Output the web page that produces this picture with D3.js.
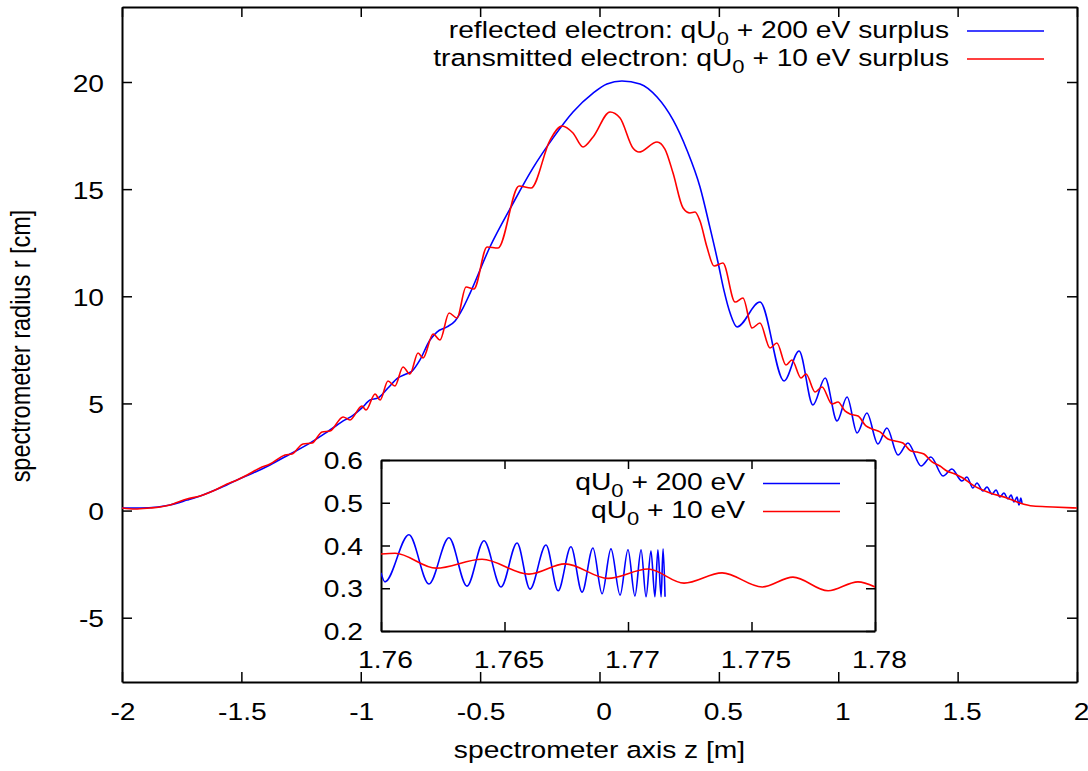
<!DOCTYPE html>
<html><head><meta charset="utf-8">
<script src="https://cdn.jsdelivr.net/npm/d3@7"></script>
<style>
body{margin:0;background:#fff}
svg{display:block;background:#fff}
text{font-family:"Liberation Sans",Arial,Helvetica,sans-serif;fill:#000;white-space:pre}
</style></head><body>
<svg id="c" width="1088" height="771"></svg>
<script>
// ---------------- data ----------------
const reflectedMain = [
[-2.000,0.12],[-1.925,0.12],[-1.849,0.17],[-1.799,0.26],[-1.728,0.49],[-1.661,0.73],[-1.590,1.05],
[-1.518,1.43],[-1.451,1.75],[-1.380,2.13],[-1.296,2.64],[-1.213,3.15],[-1.129,3.76],[-1.066,4.23],
[-1.037,4.41],[-0.995,4.79],[-0.961,5.16],[-0.928,5.25],[-0.886,5.72],[-0.844,6.19],[-0.810,6.37],
[-0.785,6.51],[-0.752,7.03],[-0.710,7.96],[-0.681,8.33],[-0.639,8.57],[-0.605,8.85],[-0.572,9.45],
[-0.542,10.15],[-0.459,12.30],[-0.366,14.26],[-0.279,15.98],[-0.195,17.38],[-0.111,18.60],
[-0.027,19.48],[0.031,19.91],[0.094,20.05],[0.170,19.91],[0.241,19.30],[0.308,18.23],[0.366,16.83],
[0.421,15.10],[0.463,13.19],[0.496,11.60],[0.521,10.29],[0.547,9.22],[0.576,8.57],
[0.672,9.73],[0.773,6.05],[0.836,7.45],[0.894,4.93],[0.945,6.19],[0.995,4.18],[1.037,5.30],
[1.079,3.62],[1.120,4.55],[1.166,3.11],[1.204,3.85],[1.250,2.59],[1.292,3.15],[1.347,2.08],
[1.388,2.50],[1.439,1.61],[1.476,1.94],[1.518,1.38],[1.539,1.57],[1.564,1.05],[1.581,1.29],
[1.606,0.91],[1.623,1.10],[1.644,0.77],[1.661,0.96],[1.677,0.63],[1.694,0.82],[1.711,0.54],
[1.724,0.73],[1.736,0.40],[1.749,0.63],[1.757,0.26],[1.765,0.59],[1.770,0.31]
];
const transmittedMain = [
[-2.000,0.12],[-1.946,0.07],[-1.883,0.12],[-1.841,0.17],[-1.799,0.26],[-1.728,0.54],[-1.673,0.68],
[-1.619,0.91],[-1.560,1.24],[-1.518,1.43],[-1.476,1.66],[-1.422,1.99],[-1.380,2.17],[-1.317,2.59],
[-1.288,2.64],[-1.242,3.11],[-1.204,3.15],[-1.162,3.67],[-1.129,3.71],[-1.074,4.37],[-1.045,4.23],
[-0.995,4.88],[-0.978,4.69],[-0.940,5.44],[-0.919,5.16],[-0.886,6.05],[-0.857,5.81],[-0.823,6.70],
[-0.794,6.37],[-0.760,7.35],[-0.739,7.12],[-0.697,8.24],[-0.668,7.96],[-0.630,9.22],[-0.597,8.99],
[-0.559,10.43],[-0.526,10.34],[-0.471,12.30],[-0.425,12.25],[-0.337,15.15],[-0.287,15.05],
[-0.207,17.29],[-0.157,17.95],[-0.111,17.62],[-0.069,16.97],[-0.027,17.43],[0.044,18.60],
[0.086,18.32],[0.140,16.92],[0.165,16.73],[0.241,17.20],[0.274,16.87],[0.308,15.75],[0.350,14.12],
[0.379,13.89],[0.400,13.93],[0.421,13.51],[0.450,12.30],[0.480,11.41],[0.517,11.55],[0.568,9.73],
[0.601,9.92],[0.639,8.52],[0.672,8.75],[0.714,7.59],[0.743,7.82],[0.781,6.79],[0.806,7.03],
[0.844,6.19],[0.865,6.37],[0.903,5.53],[0.932,5.77],[0.974,4.97],[0.999,5.07],[1.028,4.65],
[1.049,4.51],[1.083,4.41],[1.116,3.95],[1.141,3.81],[1.175,3.67],[1.208,3.34],[1.238,3.25],
[1.271,3.15],[1.305,2.78],[1.330,2.73],[1.359,2.64],[1.393,2.27],[1.426,2.08],[1.455,1.85],
[1.489,1.71],[1.522,1.52],[1.564,1.19],[1.636,0.82],[1.707,0.59],[1.761,0.35],[1.816,0.21],
[1.899,0.17],[2.000,0.12]
];
const reflectedInset = [
[1.76000,0.336],[1.76016,0.315],[1.76113,0.425],[1.76194,0.310],[1.76275,0.418],[1.76348,0.305],
[1.76417,0.411],[1.76486,0.303],[1.76551,0.406],[1.76603,0.298],[1.76668,0.401],[1.76717,0.294],
[1.76769,0.397],[1.76814,0.291],[1.76858,0.394],[1.76895,0.287],[1.76931,0.392],[1.76968,0.284],
[1.77000,0.390],[1.77028,0.282],[1.77053,0.390],[1.77073,0.280],[1.77093,0.387],[1.77109,0.280],
[1.77121,0.390],[1.77134,0.280],[1.77142,0.392],[1.77150,0.280]
];
const transmittedInset = [
[1.76000,0.380],[1.76057,0.382],[1.76223,0.347],[1.76409,0.368],[1.76599,0.333],[1.76745,0.357],
[1.76919,0.323],[1.77081,0.345],[1.77227,0.312],[1.77381,0.336],[1.77543,0.303],[1.77668,0.326],
[1.77810,0.294],[1.77931,0.315],[1.78000,0.303]
];
const mainXTicks = [-2,-1.5,-1,-0.5,0,0.5,1,1.5,2];
const mainYTicks = [-5,0,5,10,15,20];
const insetXTicks = [1.76,1.765,1.77,1.775,1.78];
const insetYTicks = [0.2,0.3,0.4,0.5,0.6];
const mainLegend = [["reflected electron: qU","0"," + 200 eV surplus"],["transmitted electron: qU","0"," + 10 eV surplus"]];
const insetLegend = [["qU","0"," + 200 eV"],["qU","0"," + 10 eV"]];
const colors = ["#0000ff","#ff0000"];
const xLabel = "spectrometer axis z [m]";
const yLabel = "spectrometer radius r [cm]";

// ---------------- layout ----------------
const FS = 23.5, SX = 1.2;
const svg = d3.select("#c");
const M = {l:122, r:1077, t:7, b:682};
const I = {l:381, r:875, t:460, b:631};

const x = d3.scaleLinear().domain([-2,2]).range([M.l,M.r]);
const y = d3.scaleLinear().domain([-8,23.5]).range([M.b,M.t]);
const xi = d3.scaleLinear().domain([1.76,1.78]).range([I.l,I.r]);
const yi = d3.scaleLinear().domain([0.2,0.6]).range([I.b,I.t]);

const defs = svg.append("defs");
defs.append("clipPath").attr("id","cm").append("rect").attr("x",M.l).attr("y",M.t).attr("width",M.r-M.l).attr("height",M.b-M.t);
defs.append("clipPath").attr("id","ci").append("rect").attr("x",I.l).attr("y",I.t).attr("width",I.r-I.l).attr("height",I.b-I.t);

function stext(g, tx, ty, str, anchor){
  return g.append("text").attr("transform",`translate(${tx},${ty}) scale(${SX},1)`)
    .attr("text-anchor",anchor||"middle").attr("font-size",FS).text(str);
}

function frame(xs, ys, B, tick, xt, yt, xLabY, yLabX, yLabDy){
  const gB = svg.append("g").attr("transform",`translate(0,${B.b})`)
    .call(d3.axisBottom(xs).tickValues(xt).tickSizeInner(-tick).tickSizeOuter(0).tickFormat(d=>String(d)));
  const gT = svg.append("g").attr("transform",`translate(0,${B.t})`)
    .call(d3.axisTop(xs).tickValues(xt).tickSizeInner(-tick).tickSizeOuter(0).tickFormat(()=>""));
  const gL = svg.append("g").attr("transform",`translate(${B.l},0)`)
    .call(d3.axisLeft(ys).tickValues(yt).tickSizeInner(-tick).tickSizeOuter(0).tickFormat(d=>String(d)));
  const gR = svg.append("g").attr("transform",`translate(${B.r},0)`)
    .call(d3.axisRight(ys).tickValues(yt).tickSizeInner(-tick).tickSizeOuter(0).tickFormat(()=>""));
  [gB,gT,gL,gR].forEach(g=>{
    g.attr("font-family",null).attr("font-size",null);
    g.select(".domain").attr("stroke","#000").attr("stroke-width",2);
    g.selectAll(".tick line").attr("stroke","#000").attr("stroke-width",1.5);
  });
  gB.selectAll(".tick text").attr("y",null).attr("dy",null).attr("x",null)
    .attr("font-size",FS).attr("fill","#000")
    .attr("transform",d=>`translate(${d<0?0.5:4},${xLabY}) scale(${SX},1)`);
  gL.selectAll(".tick text").attr("y",null).attr("dy",null).attr("x",null)
    .attr("font-size",FS).attr("fill","#000").attr("text-anchor","end")
    .attr("transform",`translate(${yLabX},${yLabDy}) scale(${SX},1)`);
}

// main axes
frame(x, y, M, 10, mainXTicks, mainYTicks, 38, 104-M.l, 9);

// main curves
const lineM = d3.line().x(d=>x(d[0])).y(d=>y(d[1])).curve(d3.curveMonotoneX);
const gm = svg.append("g").attr("clip-path","url(#cm)");
[reflectedMain, transmittedMain].forEach((s,i)=>{
  gm.append("path").datum(s).attr("d",lineM).attr("fill","none")
    .attr("stroke",colors[i]).attr("stroke-width",1.6).attr("stroke-linejoin","round");
});

// inset
frame(xi, yi, I, 9, insetXTicks, insetYTicks, 37, 363-I.l, 8.5);
const lineI = d3.line().x(d=>xi(d[0])).y(d=>yi(d[1])).curve(d3.curveMonotoneX);
const gi = svg.append("g").attr("clip-path","url(#ci)");
[reflectedInset, transmittedInset].forEach((s,i)=>{
  gi.append("path").datum(s).attr("d",lineI).attr("fill","none")
    .attr("stroke",colors[i]).attr("stroke-width",1.6).attr("stroke-linejoin","round");
});

// legends
function legend(items, textRight, x1, x2, y0, dyRow){
  items.forEach((parts,i)=>{
    const ly = y0 + i*dyRow;
    const t = svg.append("text").attr("transform",`translate(${textRight},${ly+6.5}) scale(${SX},1)`)
      .attr("text-anchor","end").attr("font-size",FS);
    t.append("tspan").text(parts[0]);
    t.append("tspan").attr("dy",7).attr("font-size",FS*0.78).text(parts[1]);
    t.append("tspan").attr("dy",-7).text(parts[2]);
    svg.append("line").attr("x1",x1).attr("x2",x2).attr("y1",ly).attr("y2",ly)
      .attr("stroke",colors[i]).attr("stroke-width",1.6);
  });
}
legend(mainLegend, 949, 967, 1044, 31, 28);
legend(insetLegend, 745, 763, 840, 483.5, 28);

// axis titles
stext(svg, (M.l+M.r)/2, 758, xLabel, "middle");
svg.append("text").attr("transform",`translate(30,346) rotate(-90) scale(1,${SX})`)
  .attr("text-anchor","middle").attr("font-size",FS).text(yLabel);
</script>
</body></html>
